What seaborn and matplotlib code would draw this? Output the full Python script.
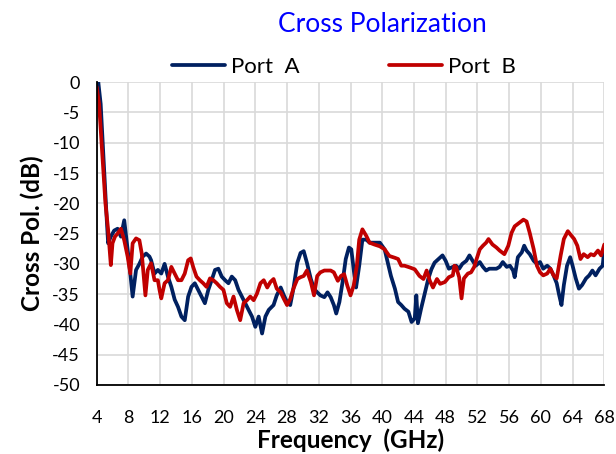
import pandas as pd
import seaborn as sns
import matplotlib.pyplot as plt
import numpy as np

# Port A (navy) trace
freq_a = [4.0, 4.2, 4.5, 4.93, 5.27, 5.44, 5.78, 6.2, 6.63, 7.05, 7.47, 7.81, 8.11, 8.53, 8.96,
          9.38, 9.8, 10.23, 10.65, 10.86, 11.29, 11.71, 12.14, 12.56, 12.98, 13.41, 13.83, 14.25,
          14.68, 15.1, 15.53, 15.95, 16.37, 16.8, 17.22, 17.64, 18.07, 18.49, 18.92, 19.34, 19.76,
          20.19, 20.61, 21.03, 21.46, 21.88, 22.3, 22.73, 23.15, 23.58, 24.0, 24.42, 24.85, 25.27,
          25.69, 26.3, 26.7, 27.2, 27.6, 28.0, 28.4, 28.8, 29.3, 29.7, 30.1, 30.5, 31.0, 31.4,
          31.8, 32.2, 32.7, 33.1, 33.5, 33.9, 34.2, 34.6, 35.0, 35.4, 35.8, 36.1, 36.5, 36.7,
          37.1, 37.5, 38.0, 38.4, 39.0, 39.7, 40.3, 40.7, 41.1, 41.6, 42.0, 42.4, 42.8, 43.3,
          43.7, 44.1, 44.3, 44.5, 44.9, 45.4, 45.8, 46.2, 46.6, 47.1, 47.6, 48.0, 48.4, 48.9,
          49.3, 49.7, 50.1, 50.6, 51.0, 51.4, 51.8, 52.3, 52.7, 53.1, 53.5, 54.0, 54.4, 54.8,
          55.2, 55.7, 56.1, 56.5, 56.7, 57.1, 57.6, 57.9, 58.2, 58.6, 59.1, 59.5, 59.9, 60.3,
          60.8, 61.2, 61.6, 62.0, 62.3, 62.6, 62.9, 63.3, 63.7, 64.0, 64.4, 64.8, 65.2, 65.7,
          66.1, 66.5, 66.9, 67.4, 67.8, 68.0]
xpol_a = [-1.0, 0.0, -3.6, -14.5, -22.8, -26.6, -25.5, -24.5, -24.2, -25.5, -22.8, -26.6, -30.0,
          -35.4, -31.0, -30.0, -28.8, -28.3, -28.8, -29.4, -31.6, -31.0, -31.6, -30.0, -32.1,
          -33.8, -35.9, -37.1, -38.7, -39.3, -35.4, -33.8, -33.2, -34.3, -35.4, -36.5, -34.3,
          -32.7, -31.0, -30.8, -32.1, -32.7, -33.2, -32.1, -32.7, -34.3, -35.4, -36.5, -37.6,
          -38.7, -40.4, -38.7, -41.5, -38.7, -37.6, -36.8, -35.2, -33.9, -35.2, -36.3, -36.8,
          -34.1, -29.8, -28.2, -27.9, -29.8, -32.5, -34.1, -34.7, -35.2, -35.5, -34.7, -35.5,
          -36.8, -38.2, -36.3, -33.0, -29.2, -27.3, -27.6, -32.0, -33.9, -30.3, -26.0, -26.0,
          -26.5, -26.5, -26.5, -27.6, -29.8, -32.0, -34.1, -36.3, -36.8, -37.4, -37.9, -39.6,
          -39.0, -35.2, -39.8, -37.4, -34.7, -32.5, -30.9, -29.8, -29.2, -28.6, -29.5, -30.8,
          -30.5, -30.3, -30.8, -30.0, -29.5, -28.6, -29.5, -30.3, -29.7, -30.5, -31.1, -30.8,
          -30.8, -30.8, -30.5, -29.7, -30.5, -30.3, -31.1, -32.2, -28.9, -28.1, -27.0, -27.8,
          -28.4, -29.5, -30.0, -29.7, -30.8, -30.3, -30.8, -31.9, -33.2, -35.1, -36.8, -33.5,
          -30.3, -28.9, -30.3, -32.4, -34.1, -33.5, -32.4, -31.9, -31.1, -31.9, -30.8, -30.3,
          -27.5]

# Port B (red) trace
freq_b = [4.0, 4.3, 4.7, 5.1, 5.44, 5.78, 5.99, 6.3, 6.63, 7.05, 7.47, 7.9, 8.24, 8.53, 8.96,
          9.38, 9.68, 9.93, 10.14, 10.44, 10.86, 11.29, 11.71, 11.92, 12.14, 12.56, 12.98, 13.41,
          13.83, 14.25, 14.68, 15.1, 15.53, 15.86, 16.16, 16.58, 17.0, 17.43, 17.85, 18.28, 18.7,
          19.13, 19.55, 19.98, 20.4, 20.82, 21.25, 21.67, 22.09, 22.52, 22.94, 23.36, 23.79,
          24.21, 24.64, 25.06, 25.5, 25.9, 26.3, 26.7, 27.2, 27.6, 28.0, 28.4, 28.8, 29.3, 29.7,
          30.1, 30.5, 31.0, 31.4, 31.8, 32.2, 32.7, 33.5, 33.9, 34.4, 34.8, 35.2, 35.6, 36.0,
          36.4, 36.8, 37.1, 37.5, 38.0, 38.4, 39.0, 39.7, 40.3, 40.9, 41.6, 42.0, 42.4, 42.8,
          43.5, 44.1, 44.7, 45.2, 45.6, 46.0, 46.4, 46.9, 47.3, 47.9, 48.4, 48.9, 49.1, 49.3,
          49.7, 50.0, 50.3, 50.8, 51.2, 51.6, 51.9, 52.3, 52.7, 53.1, 53.4, 53.9, 54.4, 54.8,
          55.4, 55.9, 56.3, 56.7, 57.3, 57.8, 58.2, 58.6, 59.1, 59.5, 59.9, 60.3, 60.8, 61.2,
          61.6, 62.0, 62.5, 62.9, 63.4, 63.7, 64.2, 64.6, 65.0, 65.4, 65.9, 66.3, 66.7, 67.2,
          67.6, 68.0]
xpol_b = [-0.8, -3.6, -11.8, -20.0, -24.4, -30.2, -26.6, -25.5, -25.0, -24.2, -26.1, -28.8,
          -31.6, -26.6, -25.8, -26.1, -28.3, -32.1, -35.2, -31.0, -29.9, -32.7, -32.7, -34.3,
          -35.7, -33.2, -32.7, -30.5, -31.6, -32.7, -32.7, -31.6, -29.4, -29.1, -30.5, -32.1,
          -32.7, -33.2, -33.8, -32.4, -32.7, -33.2, -33.8, -34.3, -36.5, -37.1, -35.4, -37.6,
          -39.3, -36.5, -36.0, -35.4, -36.0, -34.9, -33.2, -32.7, -33.9, -33.0, -32.5, -34.1,
          -34.7, -35.8, -36.8, -35.8, -34.1, -32.5, -32.2, -32.0, -31.1, -33.0, -35.2, -32.0,
          -31.4, -31.1, -31.1, -31.4, -32.8, -32.0, -31.7, -33.6, -35.2, -33.6, -30.3, -26.0,
          -24.3, -25.4, -26.5, -26.8, -27.1, -27.6, -28.7, -29.0, -29.2, -30.3, -30.3, -30.6,
          -30.9, -32.0, -32.5, -31.1, -32.8, -33.9, -32.5, -33.3, -33.0, -32.2, -31.9, -30.3,
          -30.5, -32.2, -35.7, -32.4, -31.6, -31.4, -30.5, -29.2, -27.6, -27.0, -26.5, -25.9,
          -26.8, -27.3, -27.8, -28.4, -27.0, -24.9, -23.8, -23.2, -22.7, -23.0, -24.9, -27.6,
          -30.3, -31.4, -31.9, -31.6, -30.8, -31.9, -32.4, -28.6, -25.9, -24.6, -25.1, -25.9,
          -27.0, -29.2, -28.4, -28.9, -28.4, -28.6, -27.8, -28.6, -26.8]

df = pd.concat([
    pd.DataFrame({'freq': freq_a, 'xpol': xpol_a, 'port': 'Port  A'}),
    pd.DataFrame({'freq': freq_b, 'xpol': xpol_b, 'port': 'Port  B'}),
])

sns.set_theme(style='whitegrid')
plt.rcParams['font.family'] = ['Lato', 'DejaVu Sans']
plt.rcParams['axes.unicode_minus'] = False
plt.rcParams['text.color'] = 'black'
plt.rcParams['axes.labelcolor'] = 'black'

fig = plt.figure(figsize=(6.16, 4.54), dpi=100)
ax = fig.add_axes([0.157, 0.152, 0.824, 0.667])

sns.lineplot(data=df, x='freq', y='xpol', hue='port', sort=False, estimator=None,
             palette={'Port  A': '#002060', 'Port  B': '#C00000'}, linewidth=2.7, ax=ax)

ax.set_xlim(4, 68)
ax.set_ylim(-50, 0)
ax.set_xticks(np.arange(4, 69, 4))
ax.set_yticks(np.arange(-50, 1, 5))
ax.grid(True, color='#d9d9d9', linewidth=1.2)
for s in ['top', 'right']:
    ax.spines[s].set_visible(False)
for s in ['left', 'bottom']:
    ax.spines[s].set_color('black')
    ax.spines[s].set_linewidth(1.3)
ax.tick_params(axis='x', length=0, labelsize=13, colors='black', pad=18)
ax.tick_params(axis='y', length=0, labelsize=13, colors='black', pad=12)

ax.set_xlabel('Frequency  (GHz)', fontsize=17.5, fontweight='bold', labelpad=2)
ax.set_ylabel('Cross Pol. (dB)', fontsize=17.5, fontweight='bold', labelpad=6)

fig.text(0.62, 0.947, 'Cross Polarization', color='#0000FF', fontsize=19,
         ha='center', va='center')

ax.legend(loc='center', bbox_to_anchor=(0.487, 1.05), ncol=2, frameon=False,
          fontsize=16, handlelength=2.4, handletextpad=0.27, columnspacing=4.0,
          borderaxespad=0)

plt.savefig('out.png', dpi=100)
